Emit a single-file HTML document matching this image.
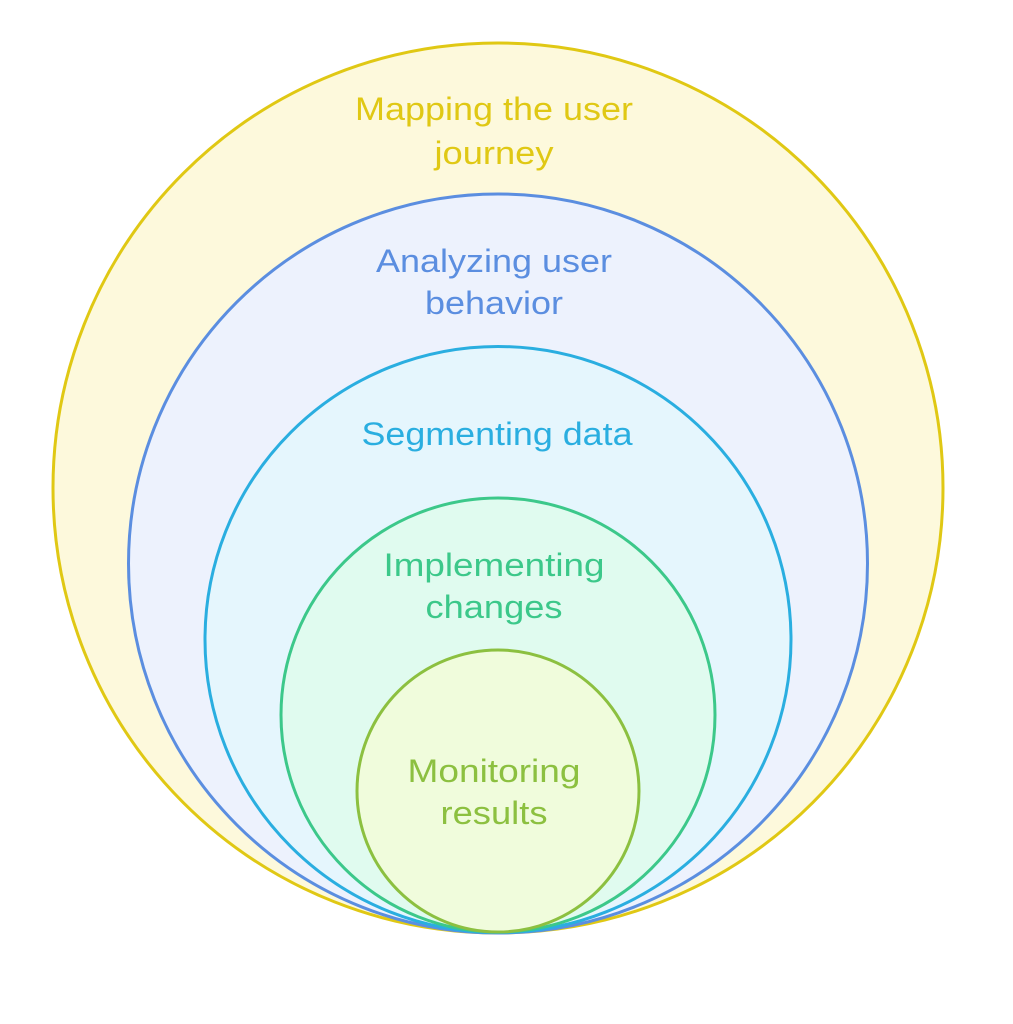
<!DOCTYPE html>
<html><head><meta charset="utf-8"><style>html,body{margin:0;padding:0;background:#fff}svg{display:block}</style></head>
<body>
<svg width="1013" height="1024" viewBox="0 0 1013 1024" xmlns="http://www.w3.org/2000/svg" font-family="Liberation Sans, sans-serif" font-size="32" text-anchor="middle" lengthAdjust="spacingAndGlyphs">
<circle cx="498" cy="488" r="445" fill="#fdf9dc" stroke="#e0c814" stroke-width="3"/>
<circle cx="498" cy="563.5" r="369.5" fill="#edf2fd" stroke="#5b8ee0" stroke-width="3"/>
<circle cx="498" cy="639.5" r="293" fill="#e5f6fd" stroke="#2aaee0" stroke-width="3"/>
<circle cx="498" cy="715" r="217" fill="#e0fbef" stroke="#3cc88a" stroke-width="3"/>
<circle cx="498" cy="791" r="141" fill="#f0fcdc" stroke="#8cc040" stroke-width="3"/>
<g fill="#e0c814"><text x="494" y="120" textLength="278" lengthAdjust="spacingAndGlyphs">Mapping the user</text><text x="494" y="164" textLength="119" lengthAdjust="spacingAndGlyphs">journey</text></g>
<g fill="#5b8ee0"><text x="494" y="272" textLength="236" lengthAdjust="spacingAndGlyphs">Analyzing user</text><text x="494" y="314" textLength="138" lengthAdjust="spacingAndGlyphs">behavior</text></g>
<g fill="#2aaee0"><text x="497" y="445" textLength="271" lengthAdjust="spacingAndGlyphs">Segmenting data</text></g>
<g fill="#3cc88a"><text x="494" y="576" textLength="221" lengthAdjust="spacingAndGlyphs">Implementing</text><text x="494" y="618" textLength="137" lengthAdjust="spacingAndGlyphs">changes</text></g>
<g fill="#8cc040"><text x="494" y="782" textLength="173" lengthAdjust="spacingAndGlyphs">Monitoring</text><text x="494" y="824" textLength="107" lengthAdjust="spacingAndGlyphs">results</text></g>
</svg>
</body></html>
